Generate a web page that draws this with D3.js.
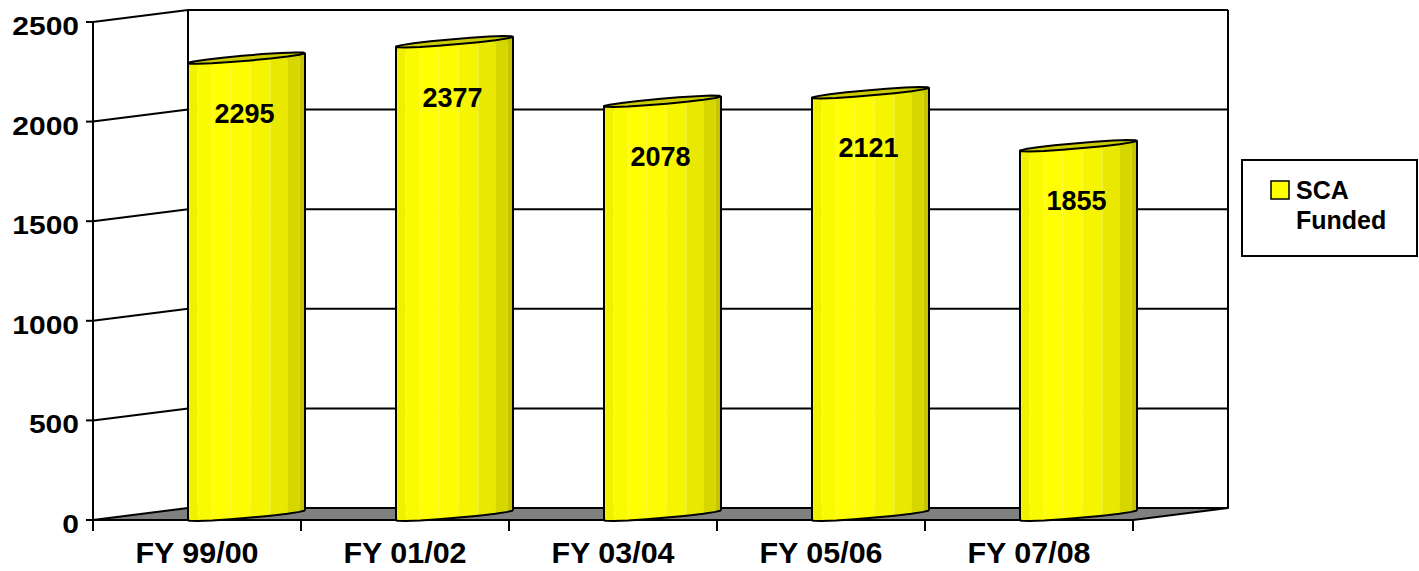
<!DOCTYPE html>
<html>
<head>
<meta charset="utf-8">
<script src="https://cdn.jsdelivr.net/npm/d3@7"></script>
<style>
  html, body { margin: 0; padding: 0; background: #fff; }
  svg { display: block; font-family: "Liberation Sans", Arial, sans-serif; font-weight: bold; }
</style>
</head>
<body>
<svg id="chart" width="1419" height="571"></svg>
<script>
const categories = ["FY 99/00", "FY 01/02", "FY 03/04", "FY 05/06", "FY 07/08"];
const values = [2295, 2377, 2078, 2121, 1855];
const yTicks = [0, 500, 1000, 1500, 2000, 2500];
const seriesName = ["SCA", "Funded"];

const svg = d3.select("#chart");
const x = d3.scaleBand().domain(categories).range([93, 1133]).paddingInner(0).paddingOuter(0);
const y = d3.scaleLinear().domain([0, 2500]).range([520, 22]);
const DX = 95, DY = -12;          // depth offset of the back wall
const x0 = x.range()[0], x1 = x.range()[1];
const barW = x.bandwidth() * 0.5625;
const tilt = 9.5;                 // rise of the cylinder chord

const g = svg.append("g");

// Back wall gridlines + left wall diagonals
yTicks.forEach(t => {
  const yf = y(t);
  if (t > 0) {
    g.append("line").attr("x1", x0).attr("y1", yf).attr("x2", x0 + DX).attr("y2", yf + DY)
      .attr("stroke", "#000").attr("stroke-width", 2);
    g.append("line").attr("x1", x0 + DX).attr("y1", yf + DY).attr("x2", x1 + DX).attr("y2", yf + DY)
      .attr("stroke", "#000").attr("stroke-width", 2);
  }
});
g.append("line").attr("x1", x0 + DX).attr("y1", y(2500) + DY).attr("x2", x0 + DX).attr("y2", y(0) + DY)
  .attr("stroke", "#000").attr("stroke-width", 2);
g.append("line").attr("x1", x1 + DX).attr("y1", y(2500) + DY).attr("x2", x1 + DX).attr("y2", y(0) + DY)
  .attr("stroke", "#000").attr("stroke-width", 2);

// Floor
g.append("path")
  .attr("d", `M${x0},${y(0)} L${x0 + DX},${y(0) + DY} L${x1 + DX},${y(0) + DY} L${x1},${y(0)} Z`)
  .attr("fill", "#808080").attr("stroke", "#000").attr("stroke-width", 2).attr("stroke-linejoin", "round");

// Front value axis
g.append("line").attr("x1", x0).attr("y1", y(2500)).attr("x2", x0).attr("y2", y(0) + 11)
  .attr("stroke", "#000").attr("stroke-width", 2);
yTicks.forEach(t => {
  g.append("line").attr("x1", x0 - 7).attr("y1", y(t)).attr("x2", x0).attr("y2", y(t))
    .attr("stroke", "#000").attr("stroke-width", 2);
  g.append("g").attr("transform", `translate(79,${y(t) + 13}) scale(1.2,1)`)
    .append("text").attr("text-anchor", "end").attr("font-size", 25).attr("fill", "#000").text(t);
});

// Category axis
const bounds = categories.map(c => x(c)).concat([x1]);
bounds.forEach(b => {
  g.append("line").attr("x1", b).attr("y1", y(0)).attr("x2", b).attr("y2", y(0) + 11)
    .attr("stroke", "#000").attr("stroke-width", 2);
});
g.append("line").attr("x1", x0).attr("y1", y(0)).attr("x2", x1).attr("y2", y(0))
  .attr("stroke", "#000").attr("stroke-width", 2);
categories.forEach(c => {
  g.append("g").attr("transform", `translate(${x(c) + x.bandwidth() / 2},563) scale(1.05,1)`)
    .append("text").attr("text-anchor", "middle").attr("font-size", 29).attr("fill", "#000").text(c);
});

// Cylinders
const N = 18; // facets around
function ellipsePt(cx, cy, th) {
  const ux = -barW / 2, uy = tilt / 2;   // theta=0 -> left end
  const vx = -6, vy = 3.2;               // front bulge
  return [cx + Math.cos(th) * ux + Math.sin(th) * vx, cy + Math.cos(th) * uy + Math.sin(th) * vy];
}
function shade(th) {
  const k = 0.79 + 0.21 * Math.cos(th - 1.3);
  const c = Math.round(255 * Math.min(1, k));
  return `rgb(${c},${c},0)`;
}
const line = d3.line();

categories.forEach((c, i) => {
  const L = x(c) + DX;
  const cx = L + barW / 2;
  const cyB = y(0) - tilt / 2;
  const cyT = y(values[i]) - tilt / 2;
  const bars = g.append("g");
  const half = N / 2;
  for (let k = 0; k < half; k++) {
    const a = Math.PI * k / half, b = Math.PI * (k + 1) / half;
    const pts = [ellipsePt(cx, cyB, a), ellipsePt(cx, cyB, b), ellipsePt(cx, cyT, b), ellipsePt(cx, cyT, a)];
    bars.append("path").attr("d", line(pts) + "Z")
      .attr("fill", shade((a + b) / 2)).attr("stroke", shade((a + b) / 2)).attr("stroke-width", 0.6);
    if (k > 0) {
      const p1 = ellipsePt(cx, cyB, a), p2 = ellipsePt(cx, cyT, a);
      bars.append("line").attr("x1", p1[0]).attr("y1", p1[1] - 2).attr("x2", p2[0]).attr("y2", p2[1] + 4)
        .attr("stroke", "rgba(255,255,210,0.35)").attr("stroke-width", 0.8);
    }
  }
  const cap = d3.range(N).map(k => ellipsePt(cx, cyT, 2 * Math.PI * k / N));
  bars.append("path").attr("d", line(cap) + "Z")
    .attr("fill", "#cccc00").attr("stroke", "#000").attr("stroke-width", 2).attr("stroke-linejoin", "round");
  const left = [ellipsePt(cx, cyT, 0), ellipsePt(cx, cyB, 0)];
  const right = [ellipsePt(cx, cyT, Math.PI), ellipsePt(cx, cyB, Math.PI)];
  const arc = d3.range(half + 1).map(k => ellipsePt(cx, cyB, Math.PI * k / half));
  bars.append("path").attr("d", line(left)).attr("stroke", "#000").attr("stroke-width", 2).attr("fill", "none");
  bars.append("path").attr("d", line(right)).attr("stroke", "#000").attr("stroke-width", 2).attr("fill", "none");
  bars.append("path").attr("d", line(arc)).attr("stroke", "#000").attr("stroke-width", 2).attr("fill", "none")
    .attr("stroke-linejoin", "round");
  bars.append("text").attr("x", cx - 2).attr("y", y(values[i]) + 60)
    .attr("text-anchor", "middle").attr("font-size", 27).attr("fill", "#000").text(values[i]);
});

// Legend
const lg = svg.append("g");
lg.append("rect").attr("x", 1242).attr("y", 160).attr("width", 175).attr("height", 96)
  .attr("fill", "#fff").attr("stroke", "#000").attr("stroke-width", 2);
lg.append("rect").attr("x", 1271).attr("y", 181).attr("width", 18).attr("height", 18)
  .attr("fill", "#ffff00").attr("stroke", "#000").attr("stroke-width", 1.5);
seriesName.forEach((s, i) => {
  lg.append("text").attr("x", 1296).attr("y", 199 + i * 30).attr("font-size", 25)
    .attr("fill", "#000").text(s);
});
</script>
</body>
</html>
